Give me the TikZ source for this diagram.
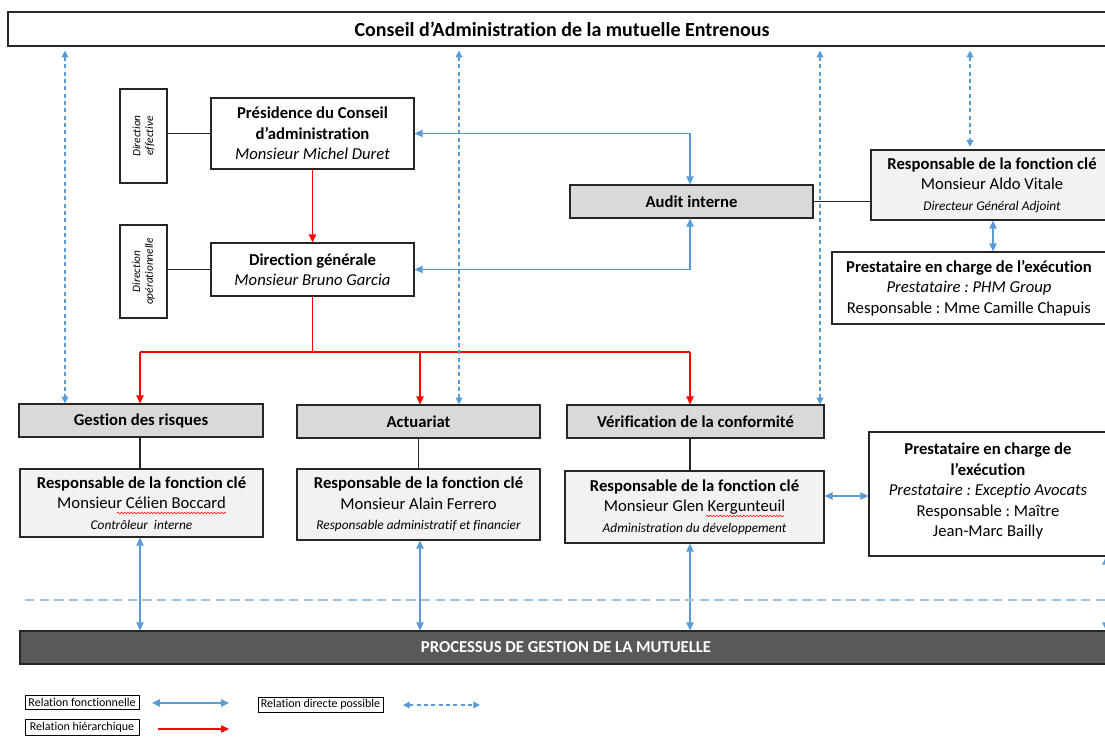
\documentclass[tikz,border=0pt]{standalone}
\usepackage{fontspec}
\setmainfont{Carlito}[Ligatures=NoCommon]
\frenchspacing
\usetikzlibrary{arrows.meta,fit,decorations.pathmorphing}
\definecolor{fblue}{HTML}{5B9BD5}
\definecolor{lblue}{HTML}{9DC3E6}
\definecolor{hred}{HTML}{FF0000}
\definecolor{gfill}{HTML}{D9D9D9}
\definecolor{lfill}{HTML}{F2F2F2}
\definecolor{dfill}{HTML}{595959}
\begin{document}
\begin{tikzpicture}[x=0.75pt,y=-0.75pt,
  box/.style={draw=black!85, line width=0.9pt, inner sep=0pt},
  greybox/.style={box, fill=gfill},
  keybox/.style={box, fill=lfill},
  txt/.style={inner sep=0pt, align=center, font=\fontsize{12.5}{15.4}\selectfont},
  btxt/.style={txt, font=\fontsize{12.5}{15.4}\selectfont\bfseries},
  rtxt/.style={inner sep=0pt, align=center, rotate=90, font=\fontsize{8.5}{9.5}\selectfont\itshape},
  legbox/.style={draw=black, line width=0.7pt, inner sep=0pt},
  ltxt/.style={inner sep=0pt, font=\fontsize{9}{10}\selectfont},
  link/.style={draw=black!85, line width=0.8pt},
  farrow/.style={draw=fblue, line width=1.1pt, {Triangle[length=6pt,width=5.5pt]}-{Triangle[length=6pt,width=5.5pt]}},
  darrow/.style={draw=fblue, line width=1pt, dash pattern=on 3pt off 2.5pt, {Triangle[length=5pt,width=5pt]}-{Triangle[length=5pt,width=5pt]}},
  hline/.style={draw=hred, line width=0.9pt},
  harrow/.style={draw=hred, line width=0.9pt, -{Triangle[length=6pt,width=5.5pt]}},
  squig/.style={draw=hred, line width=0.4pt, decorate, decoration={snake, amplitude=0.6pt, segment length=2.5pt}}
]
\newcommand{\sm}{\fontsize{10}{15.4}\selectfont\itshape}
\useasboundingbox (0,0) rectangle (1105,737);
\clip (0,0) rectangle (1105,737);

% coordinates for connector positions
\coordinate (xa) at (65,0);
\coordinate (xb) at (459,0);
\coordinate (xc) at (820,0);
\coordinate (xd) at (970,0);
\coordinate (xe) at (993,0);
\coordinate (xg) at (140,0);
\coordinate (xh) at (420,0);
\coordinate (xi) at (690,0);
\coordinate (xr) at (1106,0);
\coordinate (yh) at (0,352);
\coordinate (yg) at (0,496);

% top
\node[box, fit={(8,12)(1116,46)}] (ca) {};
\node[btxt, font=\fontsize{15}{16}\selectfont\bfseries] (ca-t) at (562,29) {Conseil d’Administration de la mutuelle Entrenous};

% left side boxes
\node[box, fit={(120,89)(167,183)}] (eff) {};
\node[rtxt] (eff-t) at (eff.center) {Direction\\effective};
\node[box, fit={(120,225)(167,318)}] (op) {};
\node[rtxt] (op-t) at (op.center) {Direction\\opérationnelle};

\node[box, fit={(211,98)(414,169)}] (pres) {};
\node[txt] (pres-t) at (pres.center) {\textbf{Présidence du Conseil}\\\textbf{d’administration}\\\textit{Monsieur Michel Duret}};
\node[box, fit={(211,243)(414,296)}] (dg) {};
\node[txt] (dg-t) at (dg.center) {\textbf{Direction générale}\\\textit{Monsieur Bruno Garcia}};

\node[greybox, fit={(570,185)(813,218)}] (audit) {};
\node[btxt] (audit-t) at (audit.center) {Audit interne};

\node[keybox, fit={(871,150)(1113,220)}] (aldo) {};
\node[txt] (aldo-t) at (aldo.center) {\textbf{Responsable de la fonction clé}\\Monsieur Aldo Vitale\\{\sm Directeur Général Adjoint}};
\node[box, fit={(832,252)(1106,324)}] (prest1) {};
\node[txt] (prest1-t) at (prest1.center) {\textbf{Prestataire en charge de l’exécution}\\\textit{Prestataire : PHM Group}\\Responsable : Mme Camille Chapuis};

% function boxes
\node[greybox, fit={(19,404)(263,437)}] (gr) {};
\node[btxt] (gr-t) at (gr.center) {Gestion des risques};
\node[greybox, fit={(297,405)(540,438)}] (act) {};
\node[btxt] (act-t) at (act.center) {Actuariat};
\node[greybox, fit={(567,405)(824,438)}] (ver) {};
\node[btxt] (ver-t) at (ver.center) {Vérification de la conformité};

\node[keybox, fit={(20,469)(263,537)}] (rgr) {};
\node[txt] (rgr-t) at (rgr.center) {\textbf{Responsable de la fonction clé}\\Monsieur Célien Boccard\\{\sm Contrôleur~ interne}};
\node[keybox, fit={(297,469)(540,540)}] (ract) {};
\node[txt] (ract-t) at (ract.center) {\textbf{Responsable de la fonction clé}\\Monsieur Alain Ferrero\\{\sm Responsable administratif et financier}};
\node[keybox, fit={(565,471)(824,543)}] (rver) {};
\node[txt] (rver-t) at (rver.center) {\textbf{Responsable de la fonction clé}\\Monsieur Glen Kergunteuil\\{\sm Administration du développement}};

\node[box, fit={(869,432)(1107,556)}] (prest2) {};
\node[txt] (prest2-t) at ([yshift=2.2pt]prest2.center) {\textbf{Prestataire en charge de}\\\textbf{l’exécution}\\\textit{Prestataire : Exceptio Avocats}\\Responsable : Maître\\Jean-Marc Bailly};

% process bar
\node[box, fill=dfill, fit={(20,631)(1112,664)}] (proc) {};
\node[btxt, text=white] (proc-t) at (566,647.5) {PROCESSUS DE GESTION DE LA MUTUELLE};

% spell-check underlines
\draw[squig] (117,513) -- (226,513);
\draw[squig] (706,516) -- (784,516);

% black links
\draw[link] (eff.east |- pres.west) -- (pres.west);
\draw[link] (op.east |- dg.west) -- (dg.west);
\draw[link] (audit.east) -- (audit.east -| aldo.west);
\draw[link] (gr.south -| xg) -- (rgr.north -| xg);
\draw[link] (act.south) -- (ract.north);
\draw[link] (ver.south -| xi) -- (rver.north -| xi);

% hierarchical (red)
\draw[harrow] (pres.south) -- (dg.north);
\draw[hline] (dg.south) -- (dg.south |- yh);
\draw[hline] (yh -| xg) -- (yh -| xi);
\draw[harrow] (yh -| xg) -- (gr.north -| xg);
\draw[harrow] (yh -| xh) -- (act.north -| xh);
\draw[harrow] (yh -| xi) -- (ver.north -| xi);

% functional (blue solid)
\draw[farrow] (pres.east) -- (pres.east -| xi) -- (audit.north -| xi);
\draw[farrow] (dg.east) -- (dg.east -| xi) -- (audit.south -| xi);
\draw[farrow] (aldo.south -| xe) -- (prest1.north -| xe);
\draw[farrow] (rver.east |- yg) -- (prest2.west |- yg);
\draw[farrow] (rgr.south -| xg) -- (proc.north -| xg);
\draw[farrow] (ract.south -| xh) -- (proc.north -| xh);
\draw[farrow] (rver.south -| xi) -- (proc.north -| xi);
\draw[farrow] (prest2.south -| xr) -- (proc.north -| xr);

% direct possible (blue dashed)
\draw[darrow, shorten <=3pt] (ca.south -| xa) -- (gr.north -| xa);
\draw[darrow, shorten <=3pt] (ca.south -| xb) -- (act.north -| xb);
\draw[darrow, shorten <=3pt] (ca.south -| xc) -- (ver.north -| xc);
\draw[darrow, shorten <=3pt, shorten >=2pt] (ca.south -| xd) -- (aldo.north -| xd);

% dashed process line
\coordinate (dl) at (25,600);
\coordinate (dr) at (1105,600);
\draw[draw=lblue, line width=1.1pt, dash pattern=on 7pt off 4pt] (dl) -- (dr);

% legend
\node[legbox, fit={(25,695)(139,709)}] (leg1) {};
\node[ltxt] (leg1-t) at (leg1.center) {Relation fonctionnelle};
\coordinate (l1a) at (152,703);
\coordinate (l1b) at (229,703);
\draw[farrow] (l1a) -- (l1b);
\node[legbox, fit={(25,719)(139,735)}] (leg2) {};
\node[ltxt] (leg2-t) at (leg2.center) {Relation hiérarchique};
\coordinate (l2a) at (158,729);
\coordinate (l2b) at (229,729);
\draw[harrow] (l2a) -- (l2b);
\node[legbox, fit={(258,697)(383,712)}] (leg3) {};
\node[ltxt] (leg3-t) at (leg3.center) {Relation directe possible};
\coordinate (l3a) at (403,705);
\coordinate (l3b) at (480,705);
\draw[darrow] (l3a) -- (l3b);
\end{tikzpicture}
\end{document}
